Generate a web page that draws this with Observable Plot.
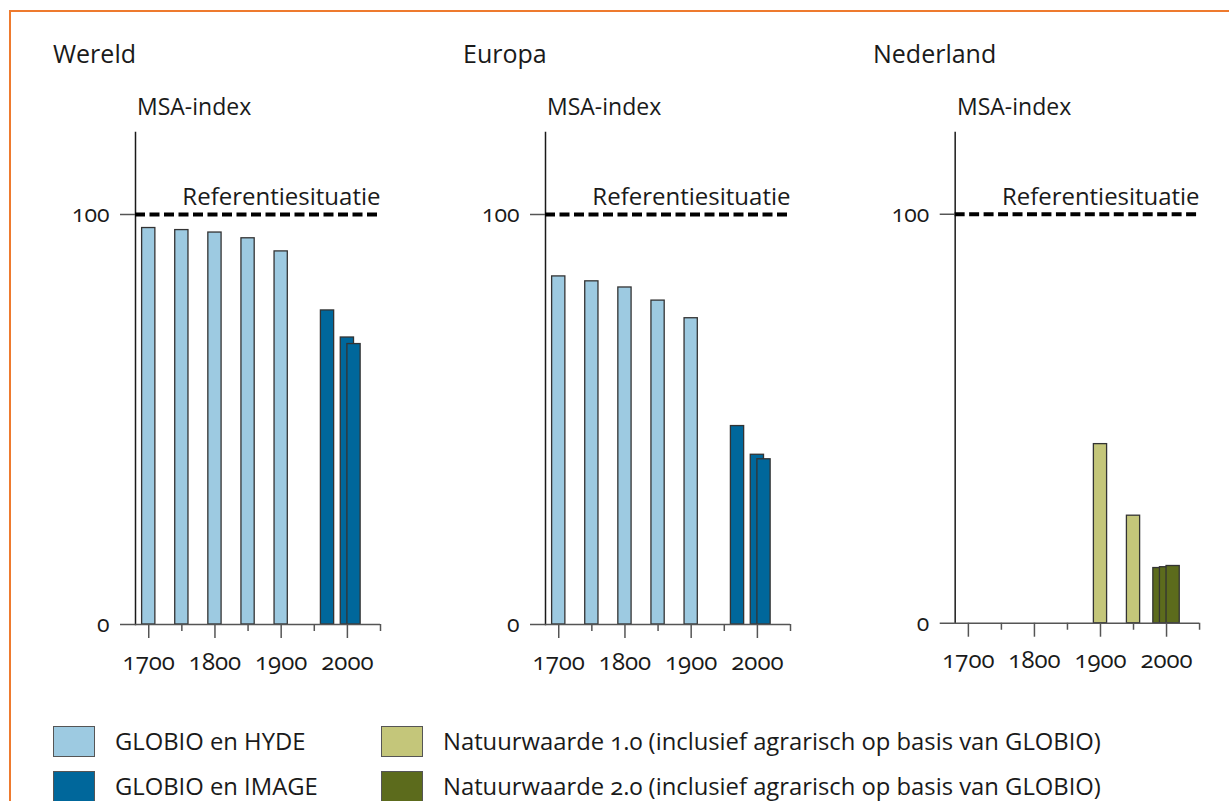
<!DOCTYPE html>
<html>
<head>
<meta charset="utf-8">
<script src="https://cdn.jsdelivr.net/npm/d3@7"></script>
<script src="https://cdn.jsdelivr.net/npm/@observablehq/plot@0.6"></script>
<style>
  html, body { margin: 0; padding: 0; background: #fff; }
  body { width: 1229px; height: 801px; overflow: hidden; position: relative;
         font-family: "Open Sans", sans-serif; color: #1a1a1a; font-variant-numeric: oldstyle-nums; }
  #frame { position: absolute; left: 9px; top: 10px; width: 1300px; height: 900px;
           border-left: 2px solid #EE7A2E; border-top: 2px solid #EE7A2E; box-sizing: border-box; }
  .title { position: absolute; top: 36px; font-size: 25px; line-height: 34px; }
  .ylab { position: absolute; top: 89px; font-size: 23px; line-height: 34px; }
  .panel { position: absolute; top: 120px; }
  .panel svg { overflow: visible; }
  .panel svg, .panel svg * { font-variant: oldstyle-nums !important; font-variant-numeric: oldstyle-nums !important; }
  .leg { position: absolute; font-size: 23.8px; line-height: 32px; display: flex; align-items: center; white-space: nowrap; }
  .sw { width: 42px; height: 31px; box-sizing: border-box; border: 1.5px solid #555; margin-right: 20px; }
</style>
</head>
<body>
<div id="frame"></div>
<div id="root"></div>
<script>
// ---- data ----
const panels = ["Wereld", "Europa", "Nederland"];
const yAxisLabel = "MSA-index";
const refValue = 100;
const refLabel = "Referentiesituatie";
const xTicks = [1700, 1800, 1900, 2000];
const xMinorTicks = [1750, 1850, 1950, 2050];
const yTicks = [0, 100];

const seriesNames = [
  "GLOBIO en HYDE",
  "GLOBIO en IMAGE",
  "Natuurwaarde 1.0 (inclusief agrarisch op basis van GLOBIO)",
  "Natuurwaarde 2.0 (inclusief agrarisch op basis van GLOBIO)"
];
const seriesColors = ["#9DCAE1", "#00679B", "#C4C67A", "#5C6B1C"];

const hydeYears = [1700, 1750, 1800, 1850, 1900];
const hydeWereld = [96.7, 96.2, 95.6, 94.2, 91.0];
const hydeEuropa = [84.9, 83.7, 82.2, 79.0, 74.7];

const imageYears = [1970, 2000, 2010];
const imageWereld = [76.6, 70.0, 68.4];
const imageEuropa = [48.4, 41.4, 40.3];

const nw1Years = [1900, 1950];
const nw1Nederland = [43.8, 26.3];

const nw2Years = [1990, 2000, 2010];
const nw2Nederland = [13.5, 13.7, 14.0];

// ---- build tables ----
function rows(years, values, series) {
  return years.map((year, i) => ({ year, value: values[i], series }));
}
const panelData = {
  "Wereld": [...rows(hydeYears, hydeWereld, seriesNames[0]), ...rows(imageYears, imageWereld, seriesNames[1])],
  "Europa": [...rows(hydeYears, hydeEuropa, seriesNames[0]), ...rows(imageYears, imageEuropa, seriesNames[1])],
  "Nederland": [...rows(nw1Years, nw1Nederland, seriesNames[2]), ...rows(nw2Years, nw2Nederland, seriesNames[3])]
};

const FONT = '"Open Sans", sans-serif';
const root = document.getElementById("root");
const halfBar = 10; // bar half-width in years

panels.forEach((name, i) => {
  const left = i * 410;
  const t = document.createElement("div");
  t.className = "title"; t.style.left = (left + 53) + "px"; t.textContent = name;
  root.appendChild(t);
  const yl = document.createElement("div");
  yl.className = "ylab"; yl.style.left = (left + 137) + "px"; yl.textContent = yAxisLabel;
  root.appendChild(yl);

  const chart = Plot.plot({
    width: 410, height: 564,
    marginLeft: 135, marginRight: 30, marginTop: 12, marginBottom: 60,
    x: { domain: [1680, 2050], axis: null },
    y: { domain: [0, 120], axis: null },
    color: { domain: seriesNames, range: seriesColors },
    style: { fontFamily: FONT, fontSize: "23px", color: "#1a1a1a", background: "transparent", overflow: "visible" },
    marks: [
      Plot.rectY(panelData[name], {
        x1: d => d.year - halfBar, x2: d => d.year + halfBar, y: "value",
        fill: "series", stroke: "#333", strokeWidth: 1.3
      }),
      Plot.frame({ anchor: "left", stroke: "#1a1a1a", strokeWidth: 1.5 }),
      Plot.ruleY([0], { stroke: "#555", strokeWidth: 1.5 }),
      Plot.axisY({ ticks: yTicks, tickSize: 15, tickPadding: 11, fontSize: 23, label: null, tickFormat: d => String(d), stroke: "#555", strokeWidth: 1.5 }),
      Plot.axisX({ ticks: xTicks, tickSize: 14, tickPadding: 14, fontSize: 24, label: null, tickFormat: d => String(d), stroke: "#555", strokeWidth: 1.5 }),
      Plot.axisX({ ticks: xMinorTicks, tickSize: 7, label: null, tickFormat: () => "", stroke: "#555", strokeWidth: 1.5 }),
      Plot.ruleY([refValue], { stroke: "#000", strokeWidth: 4, strokeDasharray: "10,4.5" }),
      Plot.text([refValue], { y: d => d, frameAnchor: "right", text: () => refLabel, textAnchor: "end", dy: -17, fontSize: 24 })
    ]
  });
  const wrap = document.createElement("div");
  wrap.className = "panel"; wrap.style.left = left + "px";
  wrap.appendChild(chart);
  root.appendChild(wrap);
});

// ---- legend ----
const legPos = [[53, 725], [53, 770], [381, 725], [381, 770]];
seriesNames.forEach((s, i) => {
  const d = document.createElement("div");
  d.className = "leg";
  d.style.left = legPos[i][0] + "px"; d.style.top = legPos[i][1] + "px";
  const sw = document.createElement("div");
  sw.className = "sw"; sw.style.background = seriesColors[i];
  const tx = document.createElement("span"); tx.textContent = s;
  d.appendChild(sw); d.appendChild(tx);
  root.appendChild(d);
});
</script>
</body>
</html>
